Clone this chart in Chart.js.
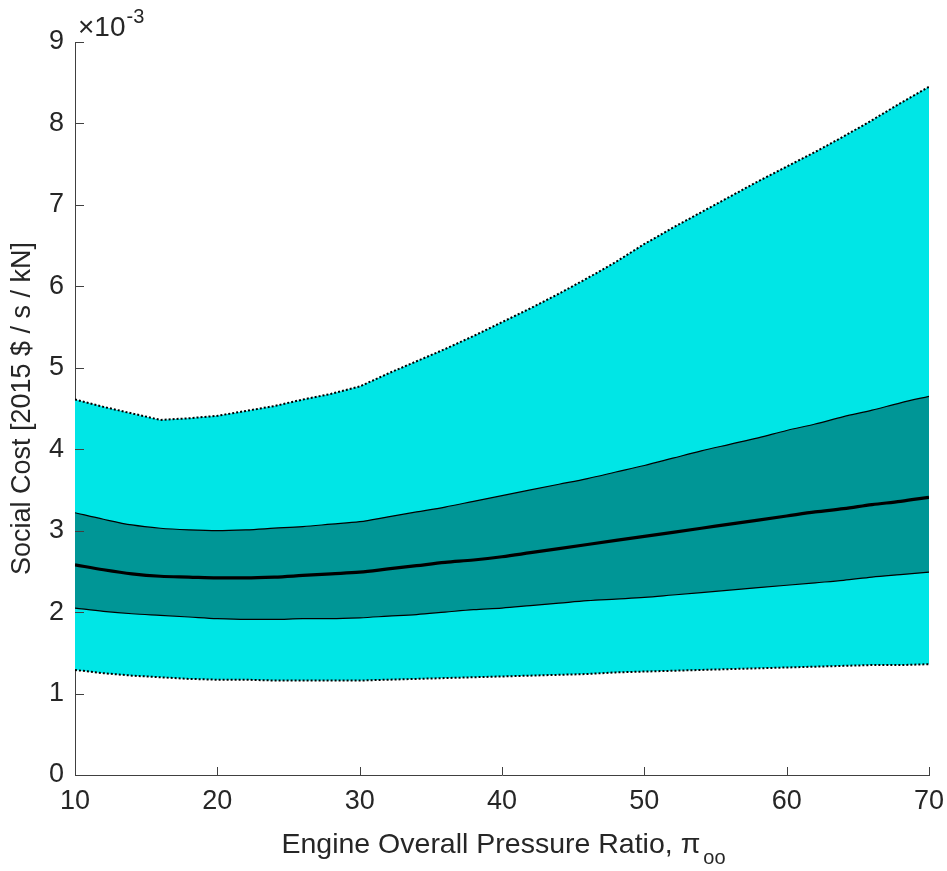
<!DOCTYPE html>
<html>
<head>
<meta charset="utf-8">
<script src="https://cdn.jsdelivr.net/npm/chart.js@4.4.1/dist/chart.umd.min.js"></script>
<style>
  html, body { margin: 0; padding: 0; background: #ffffff; }
  #wrap { width: 947px; height: 871px; position: relative; }
</style>
</head>
<body>
<div id="wrap"><canvas id="c" width="947" height="871"></canvas></div>
<script>
// ---- Data (values in units of 10^-3, as shown on the axis) ----
const xValues = [10,12,14,16,18,20,22,24,26,28,30,32,34,36,38,40,42,44,46,48,50,52,54,56,58,60,62,64,66,68,70];
const upperOuter = [4.61,4.52,4.44,4.36,4.38,4.41,4.47,4.53,4.61,4.68,4.77,4.93,5.08,5.23,5.39,5.56,5.73,5.91,6.10,6.30,6.52,6.72,6.91,7.10,7.29,7.47,7.65,7.84,8.04,8.25,8.45];
const upperInner = [3.22,3.14,3.07,3.03,3.01,3.00,3.01,3.03,3.05,3.08,3.11,3.17,3.23,3.29,3.36,3.43,3.50,3.57,3.64,3.72,3.80,3.89,3.98,4.06,4.14,4.23,4.31,4.40,4.48,4.57,4.65];
const median     = [2.58,2.52,2.47,2.44,2.43,2.42,2.42,2.43,2.45,2.47,2.49,2.53,2.57,2.61,2.64,2.68,2.73,2.78,2.83,2.88,2.93,2.98,3.03,3.08,3.13,3.18,3.23,3.27,3.32,3.36,3.41];
const lowerInner = [2.05,2.01,1.98,1.96,1.94,1.92,1.91,1.91,1.92,1.92,1.93,1.95,1.97,2.00,2.03,2.05,2.08,2.11,2.14,2.16,2.18,2.21,2.24,2.27,2.30,2.33,2.36,2.39,2.43,2.46,2.49];
const lowerOuter = [1.29,1.25,1.22,1.20,1.18,1.17,1.17,1.16,1.16,1.16,1.16,1.17,1.18,1.19,1.20,1.21,1.22,1.23,1.24,1.26,1.27,1.28,1.29,1.30,1.31,1.32,1.33,1.34,1.35,1.35,1.36];
const xTicks = [10,20,30,40,50,60,70];
const yTicks = [0,1,2,3,4,5,6,7,8,9];
const yTitle = "Social Cost [2015 $ / s / kN]";
const xTitleMain = "Engine Overall Pressure Ratio, \u03C0";
const xTitleSub = "oo";
const yExpBase = "\u00D710";
const yExpPow = "-3";

const toPts = arr => arr.map((v, i) => ({ x: xValues[i], y: v }));

const LIGHT = 'rgb(0,230,230)';
const DARK = 'rgb(0,150,150)';
const TXT = '#262626';
const FONT = '"Liberation Sans", Arial, Helvetica, sans-serif';

const decorPlugin = {
  id: 'decor',
  afterDraw(chart) {
    const ctx = chart.ctx;
    const xs = chart.scales.x, ys = chart.scales.y;
    const ca = chart.chartArea;
    ctx.save();
    // inward tick marks
    ctx.strokeStyle = '#404040';
    ctx.lineWidth = 1;
    ctx.beginPath();
    yTicks.forEach(v => {
      const py = Math.round(ys.getPixelForValue(v)) + 0.5;
      ctx.moveTo(ca.left, py); ctx.lineTo(ca.left + 9, py);
    });
    xTicks.forEach(v => {
      const px = Math.round(xs.getPixelForValue(v)) + 0.5;
      ctx.moveTo(px, ca.bottom); ctx.lineTo(px, ca.bottom - 8);
    });
    ctx.stroke();
    // x axis title with subscript
    ctx.fillStyle = TXT;
    ctx.textBaseline = 'alphabetic';
    ctx.textAlign = 'left';
    const mainFont = '28.5px ' + FONT;
    const subFont = '20px ' + FONT;
    ctx.font = mainFont;
    const wMain = ctx.measureText(xTitleMain).width;
    ctx.font = subFont;
    const wSub = ctx.measureText(xTitleSub).width;
    const cx = (ca.left + ca.right) / 2;
    const startX = cx - (wMain + wSub) / 2;
    const baseY = 853;
    ctx.font = mainFont;
    ctx.fillText(xTitleMain, startX, baseY);
    ctx.font = subFont;
    ctx.fillText(xTitleSub, startX + wMain + 3, baseY + 11);
    // exponent label
    ctx.font = '28px ' + FONT;
    ctx.fillText(yExpBase, 78, 36);
    const wb = ctx.measureText(yExpBase).width;
    ctx.font = '20px ' + FONT;
    ctx.fillText(yExpPow, 78 + wb + 1, 23);
    ctx.restore();
  }
};

new Chart(document.getElementById('c'), {
  type: 'line',
  data: {
    datasets: [
      { label: 'upperOuter', data: toPts(upperOuter), borderColor: '#000', borderWidth: 2, borderDash: [2, 2],
        backgroundColor: LIGHT, fill: { target: 1 }, pointRadius: 0, tension: 0, order: 4 },
      { label: 'lowerOuter', data: toPts(lowerOuter), borderColor: '#000', borderWidth: 2, borderDash: [2, 2],
        fill: false, pointRadius: 0, tension: 0, order: 3 },
      { label: 'upperInner', data: toPts(upperInner), borderColor: '#000', borderWidth: 1.2,
        backgroundColor: DARK, fill: { target: 3 }, pointRadius: 0, cubicInterpolationMode: 'monotone', order: 2 },
      { label: 'lowerInner', data: toPts(lowerInner), borderColor: '#000', borderWidth: 1.2,
        fill: false, pointRadius: 0, cubicInterpolationMode: 'monotone', order: 1 },
      { label: 'median', data: toPts(median), borderColor: '#000', borderWidth: 3.2,
        fill: false, pointRadius: 0, cubicInterpolationMode: 'monotone', order: 0 }
    ]
  },
  options: {
    responsive: false,
    animation: false,
    devicePixelRatio: 1,
    layout: { padding: { top: 42, right: 18, left: 0, bottom: 0 } },
    plugins: { legend: { display: false }, tooltip: { enabled: false } },
    scales: {
      x: {
        type: 'linear', min: 10, max: 70,
        afterBuildTicks: s => { s.ticks = xTicks.map(v => ({ value: v })); },
        afterFit: s => { s.height = 96; s.paddingLeft = 0; s.paddingRight = 0; },
        grid: { display: false, drawTicks: false },
        border: { display: true, color: '#404040', width: 1 },
        ticks: { color: TXT, font: { family: FONT, size: 27 }, padding: 10, maxRotation: 0, autoSkip: false }
      },
      y: {
        type: 'linear', min: 0, max: 9,
        afterBuildTicks: s => { s.ticks = yTicks.map(v => ({ value: v })); },
        afterFit: s => { s.width = 75; s.paddingTop = 0; s.paddingBottom = 0; },
        grid: { display: false, drawTicks: false },
        border: { display: true, color: '#404040', width: 1 },
        ticks: { color: TXT, font: { family: FONT, size: 27 }, padding: 11 },
        title: { display: true, text: yTitle, color: TXT, font: { family: FONT, size: 27 }, padding: { top: 6, bottom: 0 } }
      }
    }
  },
  plugins: [decorPlugin]
});
</script>
</body>
</html>
